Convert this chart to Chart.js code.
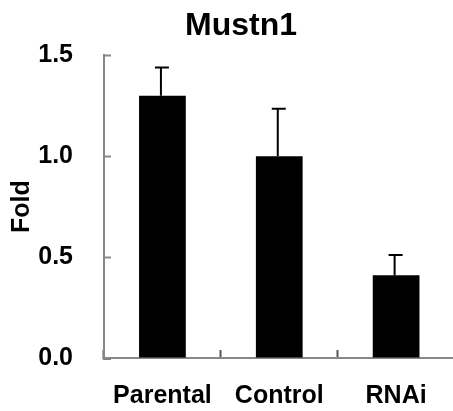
<!DOCTYPE html>
<html>
<head>
<meta charset="utf-8">
<script src="https://cdn.jsdelivr.net/npm/chart.js@4/dist/chart.umd.min.js"></script>
<style>
  html, body { margin: 0; padding: 0; background: #fff; overflow: hidden; }
  #wrap { width: 458px; height: 411px; }
</style>
</head>
<body>
<div id="wrap"><canvas id="foldChart"></canvas></div>
<script>
// data
const categories = ['Parental', 'Control', 'RNAi'];
const foldValues = [1.30, 1.00, 0.41];
const foldErrors = [0.14, 0.235, 0.10];
const yTicks = [0, 0.5, 1.0, 1.5];

// upward-only error bars, drawn through the y scale
const errorBarPlugin = {
    id: 'errorBars',
    afterDatasetsDraw(chart) {
        const ctx = chart.ctx;
        const meta = chart.getDatasetMeta(0);
        const y = chart.scales.y;
        ctx.save();
        ctx.strokeStyle = '#000';
        ctx.lineWidth = 2;
        meta.data.forEach((bar, i) => {
            const top = y.getPixelForValue(foldValues[i] + foldErrors[i]);
            const x = bar.x - 1.5;
            ctx.beginPath();
            ctx.moveTo(x, bar.y);
            ctx.lineTo(x, top);
            ctx.moveTo(x - 6, top);
            ctx.lineTo(x + 8, top);
            ctx.stroke();
        });
        ctx.restore();
    }
};

const ctx = document.getElementById('foldChart').getContext('2d');
new Chart(ctx, {
    type: 'bar',
    data: {
        labels: categories,
        datasets: [{
            data: foldValues,
            backgroundColor: '#000',
            borderWidth: 0,
            barPercentage: 0.4,
            categoryPercentage: 1.0
        }]
    },
    options: {
        responsive: true,
        maintainAspectRatio: false,
        animation: false,
        layout: { padding: { left: 26, right: 2, top: 0, bottom: 0 } },
        plugins: {
            legend: { display: false },
            tooltip: { enabled: false },
            title: {
                display: true,
                text: 'Mustn1',
                color: '#000',
                font: { family: 'Liberation Sans', size: 32, weight: 'bold' },
                padding: { top: 7, bottom: 10 }
            }
        },
        scales: {
            x: {
                grid: {
                    drawOnChartArea: false,
                    tickLength: -8,
                    tickWidth: 2,
                    tickColor: '#555'
                },
                border: { color: '#888', width: 2 },
                ticks: {
                    color: '#000',
                    padding: 31,
                    font: { family: 'Liberation Sans', size: 25, weight: 'bold' }
                },
                afterFit(scale) { scale.height = 49.5; }
            },
            y: {
                min: 0,
                max: 1.5,
                afterBuildTicks(scale) {
                    scale.ticks = yTicks.map(v => ({ value: v }));
                },
                grid: {
                    drawOnChartArea: false,
                    tickLength: -7,
                    tickWidth: 2,
                    tickColor: ctx => (ctx.tick && ctx.tick.value === 0 ? '#000' : '#888')
                },
                border: { color: '#888', width: 2 },
                ticks: {
                    color: '#000',
                    padding: 38,
                    callback: v => Number(v).toFixed(1),
                    font: { family: 'Liberation Sans', size: 25, weight: 'bold' }
                },
                title: {
                    display: true,
                    text: 'Fold',
                    color: '#000',
                    padding: { top: -19.3, bottom: 0 },
                    font: { family: 'Liberation Sans', size: 25, weight: 'bold' }
                },
                afterFit(scale) { scale.width = 78; }
            }
        }
    },
    plugins: [errorBarPlugin]
});
</script>
</body>
</html>
